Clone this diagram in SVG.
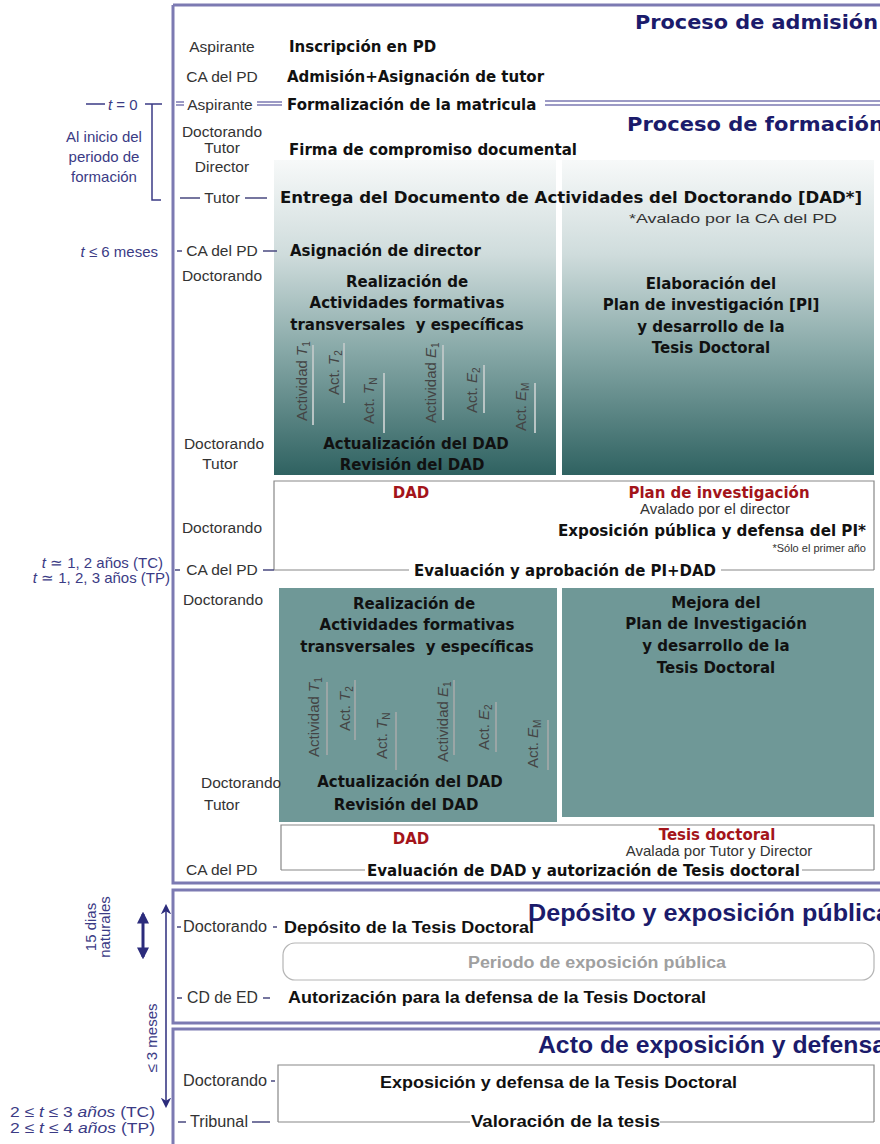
<svg xmlns="http://www.w3.org/2000/svg" width="880" height="1144" viewBox="0 0 880 1144">
<defs>
<linearGradient id="gTeal" x1="0" y1="0" x2="0" y2="1">
<stop offset="0" stop-color="#f7f9f9"/>
<stop offset="0.3" stop-color="#cfdcdc"/>
<stop offset="0.6" stop-color="#88a9a8"/>
<stop offset="1" stop-color="#2f6261"/>
</linearGradient>
<marker id="ah" viewBox="0 0 10 10" refX="8" refY="5" markerWidth="4" markerHeight="4" orient="auto-start-reverse"><path d="M0,0 L10,5 L0,10 z" fill="#2c2c7c"/></marker>
<marker id="ah2" viewBox="0 0 10 10" refX="8" refY="5" markerWidth="7" markerHeight="7" orient="auto-start-reverse"><path d="M0,0 L10,5 L0,10 L3,5 z" fill="#2c2c7c"/></marker>
</defs>
<style>
.role{font-family:"Liberation Sans",Arial,sans-serif;font-size:15.5px;fill:#333}
.act{font-family:"DejaVu Sans",Verdana,sans-serif;font-weight:bold;font-size:15px;fill:#111}
.title{font-family:"DejaVu Sans",Verdana,sans-serif;font-weight:bold;font-size:19px;fill:#1b1b6b}
.title2{font-family:"Liberation Sans",Arial,sans-serif;font-weight:bold;font-size:24px;fill:#1b1b6b}
.ann{font-family:"Liberation Sans",Arial,sans-serif;font-size:15px;fill:#3b3b85}
.red{font-family:"DejaVu Sans",Verdana,sans-serif;font-weight:bold;font-size:15px;fill:#a3141a}
.note{font-family:"Liberation Sans",Arial,sans-serif;fill:#333}
.vt{font-family:"Liberation Sans",Arial,sans-serif;font-size:15px;fill:#444}
.narrow{font-family:"Liberation Sans",Arial,sans-serif;font-size:16px;fill:#333}
.nb{font-family:"Liberation Sans",Arial,sans-serif;font-weight:bold;font-size:17px;fill:#111}
.nbg{font-family:"Liberation Sans",Arial,sans-serif;font-weight:bold;font-size:16px;fill:#a0a0a0}
.frame{fill:none;stroke:#7c7ab2;stroke-width:3}
.dbl{stroke:#7c7ab2;stroke-width:1.5}
.tick{stroke:#4a4a80;stroke-width:1.5}
.aline{stroke:#3b3b85;stroke-width:1.5;fill:none}
.bline{stroke:#888;stroke-width:1.2;fill:none}
.vl{stroke:#b8c4c4;stroke-width:2}
.vl2{stroke:#9aa6a6;stroke-width:2}
</style>

<g id="frames">
<path class="frame" d="M173,5 L882,5 M173,5 L173,883 L882,883"/>
<rect class="frame" x="173" y="890" width="712" height="133"/>
<rect class="frame" x="173" y="1029" width="712" height="130"/>
</g>

<g id="shapes">
<rect x="274" y="160" width="282" height="315" fill="url(#gTeal)"/>
<rect x="562" y="160" width="312" height="315" fill="url(#gTeal)"/>
<rect x="274" y="481" width="600" height="89" fill="#fff"/>
<rect x="279" y="588" width="278" height="234" fill="#6f9897"/>
<rect x="562" y="588" width="312" height="229" fill="#6f9897"/>
<rect x="281" y="825" width="593" height="45" fill="#fff"/>
<rect x="283" y="943" width="591" height="37" rx="12" fill="#fff" stroke="#b5b5b5" stroke-width="1.2"/>
<rect x="278" y="1065" width="596" height="57" fill="#fff"/>
</g>

<g id="connectors">
<path class="bline" d="M274,570 L274,481 L874,481 L874,570 M274,570 L409,570 M721,570 L874,570"/>
<path class="bline" d="M281,870 L281,825 L874,825 L874,870 M281,870 L365,870 M802,870 L874,870"/>
<path class="bline" d="M278,1122 L278,1065 L874,1065 L874,1122 M278,1122 L470,1122 M660,1122 L874,1122"/>
<path class="dbl" d="M176,102 L184,102 M176,105 L184,105 M257,102 L282,102 M257,105 L282,105 M545,101 L882,101 M545,105 L882,105"/>
<path class="aline" d="M86,104 L105,104 M145,104 L162,104 M152,104 L152,200 L161,200"/>
<path class="tick" d="M180,198 L200,198 M245,198 L267,198 M177,251 L182,251 M263,251 L277,251 M175,570 L180,570 M263,570 L274,570"/>
<path class="tick" stroke="#777" d="M177,927 L181,927 M273,927 L277,927 M177,998 L182,998 M263,998 L270,998 M271,1081 L275,1081 M178,1122 L186,1122 M252,1122 L270,1122"/>
<line x1="143" y1="914" x2="143" y2="957" stroke="#2c2c7c" stroke-width="3" marker-start="url(#ah)" marker-end="url(#ah)"/>
<line x1="166" y1="906" x2="166" y2="1106" stroke="#2c2c7c" stroke-width="1.5" marker-start="url(#ah2)" marker-end="url(#ah2)"/>
<path class="vl" d="M313,345 L313,425 M344,343 L344,403 M384,373 L384,433 M443,345 L443,420 M484,365 L484,413 M535,383 L535,433"/>
<path class="vl2" d="M327,682 L327,755 M355,680 L355,740 M396,712 L396,770 M454,680 L454,755 M496,702 L496,752 M548,720 L548,770"/>
</g>

<g id="titles">
<text class="title" x="635" y="29" textLength="243" lengthAdjust="spacingAndGlyphs">Proceso de admisión</text>
<text class="title" x="627" y="131" textLength="257" lengthAdjust="spacingAndGlyphs">Proceso de formación</text>
<text class="title2" x="528" y="921" textLength="362" lengthAdjust="spacingAndGlyphs">Depósito y exposición pública</text>
<text class="title2" x="538" y="1053" textLength="348" lengthAdjust="spacingAndGlyphs">Acto de exposición y defensa</text>
</g>

<g id="roles">
<text class="role" x="222" y="52" text-anchor="middle">Aspirante</text>
<text class="role" x="222" y="82" text-anchor="middle">CA del PD</text>
<text class="role" x="220" y="110" text-anchor="middle">Aspirante</text>
<text class="role" x="222" y="137" text-anchor="middle">Doctorando</text>
<text class="role" x="222" y="153" text-anchor="middle">Tutor</text>
<text class="role" x="222" y="172" text-anchor="middle">Director</text>
<text class="role" x="222" y="203" text-anchor="middle">Tutor</text>
<text class="role" x="222" y="256" text-anchor="middle">CA del PD</text>
<text class="role" x="222" y="281" text-anchor="middle">Doctorando</text>
<text class="role" x="224" y="449" text-anchor="middle">Doctorando</text>
<text class="role" x="220" y="469" text-anchor="middle">Tutor</text>
<text class="role" x="222" y="533" text-anchor="middle">Doctorando</text>
<text class="role" x="222" y="575" text-anchor="middle">CA del PD</text>
<text class="role" x="223" y="605" text-anchor="middle">Doctorando</text>
<text class="role" x="201" y="788">Doctorando</text>
<text class="role" x="204" y="810">Tutor</text>
<text class="role" x="186" y="875">CA del PD</text>
<text class="narrow" x="183" y="932" textLength="84" lengthAdjust="spacingAndGlyphs">Doctorando</text>
<text class="narrow" x="187" y="1003" textLength="71" lengthAdjust="spacingAndGlyphs">CD de ED</text>
<text class="narrow" x="183" y="1086" textLength="84" lengthAdjust="spacingAndGlyphs">Doctorando</text>
<text class="narrow" x="190" y="1127" textLength="58" lengthAdjust="spacingAndGlyphs">Tribunal</text>
</g>

<g id="annotations">
<text class="ann" x="108" y="110"><tspan font-style="italic">t</tspan> = 0</text>
<text class="ann" x="104" y="142" text-anchor="middle">Al inicio del</text>
<text class="ann" x="104" y="162" text-anchor="middle">periodo de</text>
<text class="ann" x="104" y="182" text-anchor="middle">formación</text>
<text class="ann" x="158" y="257" text-anchor="end"><tspan font-style="italic">t</tspan> ≤ 6 meses</text>
<text class="ann" x="163" y="568" text-anchor="end"><tspan font-style="italic">t</tspan> ≃ 1, 2 años (TC)</text>
<text class="ann" x="170" y="583" text-anchor="end"><tspan font-style="italic">t</tspan> ≃ 1, 2, 3 años (TP)</text>
<text class="ann" transform="translate(96,927) rotate(-90)" text-anchor="middle">15 dias</text>
<text class="ann" transform="translate(110,927) rotate(-90)" text-anchor="middle">naturales</text>
<text class="ann" transform="translate(157,1038) rotate(-90)" text-anchor="middle">≤ 3 meses</text>
<text class="ann" x="10" y="1117" textLength="145" lengthAdjust="spacingAndGlyphs">2 ≤ <tspan font-style="italic">t</tspan> ≤ 3 <tspan font-style="italic">años</tspan> (TC)</text>
<text class="ann" x="10" y="1133" textLength="145" lengthAdjust="spacingAndGlyphs">2 ≤ <tspan font-style="italic">t</tspan> ≤ 4 <tspan font-style="italic">años</tspan> (TP)</text>
</g>

<g id="admision">
<text class="act" x="289" y="52">Inscripción en PD</text>
<text class="act" x="287" y="82">Admisión+Asignación de tutor</text>
<text class="act" x="287" y="110">Formalización de la matricula</text>
</g>

<g id="formacion-inicio">
<text class="act" x="289" y="155">Firma de compromiso documental</text>
<text class="act" x="280" y="203" textLength="582" lengthAdjust="spacingAndGlyphs">Entrega del Documento de Actividades del Doctorando [DAD*]</text>
<text class="note" x="629" y="223" font-size="13.5" textLength="208" lengthAdjust="spacingAndGlyphs">*Avalado por la CA del PD</text>
<text class="act" x="290" y="256">Asignación de director</text>
</g>

<g id="actividades-1">
<text class="act" x="407" y="287" text-anchor="middle">Realización de</text>
<text class="act" x="407" y="308" text-anchor="middle">Actividades formativas</text>
<text class="act" x="407" y="330" text-anchor="middle" xml:space="preserve">transversales  y específicas</text>
<text class="vt" transform="translate(307,421) rotate(-90)">Actividad <tspan font-style="italic">T</tspan><tspan font-size="10" dy="3">1</tspan></text>
<text class="vt" transform="translate(339,395) rotate(-90)">Act. <tspan font-style="italic">T</tspan><tspan font-size="10" dy="3">2</tspan></text>
<text class="vt" transform="translate(374,424) rotate(-90)">Act. <tspan font-style="italic">T</tspan><tspan font-size="10" dy="3">N</tspan></text>
<text class="vt" transform="translate(436,423) rotate(-90)">Actividad <tspan font-style="italic">E</tspan><tspan font-size="10" dy="3">1</tspan></text>
<text class="vt" transform="translate(477,413) rotate(-90)">Act. <tspan font-style="italic">E</tspan><tspan font-size="10" dy="3">2</tspan></text>
<text class="vt" transform="translate(526,431) rotate(-90)">Act. <tspan font-style="italic">E</tspan><tspan font-size="10" dy="3">M</tspan></text>
<text class="act" x="416" y="449" text-anchor="middle">Actualización del DAD</text>
<text class="act" x="412" y="470" text-anchor="middle">Revisión del DAD</text>
</g>

<g id="plan-1">
<text class="act" x="711" y="289" text-anchor="middle">Elaboración del</text>
<text class="act" x="711" y="310" text-anchor="middle">Plan de investigación [PI]</text>
<text class="act" x="711" y="332" text-anchor="middle">y desarrollo de la</text>
<text class="act" x="711" y="353" text-anchor="middle">Tesis Doctoral</text>
</g>

<g id="evaluacion-1">
<text class="red" x="411" y="498" text-anchor="middle">DAD</text>
<text class="red" x="719" y="498" text-anchor="middle">Plan de investigación</text>
<text class="note" x="715" y="514" font-size="15" text-anchor="middle">Avalado por el director</text>
<text class="act" x="558" y="536" textLength="308" lengthAdjust="spacingAndGlyphs">Exposición pública y defensa del PI*</text>
<text class="note" x="866" y="552" font-size="11" text-anchor="end">*Sólo el primer año</text>
<text class="act" x="414" y="576" textLength="302" lengthAdjust="spacingAndGlyphs">Evaluación y aprobación de PI+DAD</text>
</g>

<g id="actividades-2">
<text class="act" x="414" y="609" text-anchor="middle">Realización de</text>
<text class="act" x="417" y="630" text-anchor="middle">Actividades formativas</text>
<text class="act" x="417" y="652" text-anchor="middle" xml:space="preserve">transversales  y específicas</text>
<text class="vt" transform="translate(319,757) rotate(-90)">Actividad <tspan font-style="italic">T</tspan><tspan font-size="10" dy="3">1</tspan></text>
<text class="vt" transform="translate(350,731) rotate(-90)">Act. <tspan font-style="italic">T</tspan><tspan font-size="10" dy="3">2</tspan></text>
<text class="vt" transform="translate(387,759) rotate(-90)">Act. <tspan font-style="italic">T</tspan><tspan font-size="10" dy="3">N</tspan></text>
<text class="vt" transform="translate(448,762) rotate(-90)">Actividad <tspan font-style="italic">E</tspan><tspan font-size="10" dy="3">1</tspan></text>
<text class="vt" transform="translate(489,750) rotate(-90)">Act. <tspan font-style="italic">E</tspan><tspan font-size="10" dy="3">2</tspan></text>
<text class="vt" transform="translate(538,768) rotate(-90)">Act. <tspan font-style="italic">E</tspan><tspan font-size="10" dy="3">M</tspan></text>
<text class="act" x="410" y="787" text-anchor="middle">Actualización del DAD</text>
<text class="act" x="406" y="810" text-anchor="middle">Revisión del DAD</text>
</g>

<g id="plan-2">
<text class="act" x="716" y="608" text-anchor="middle">Mejora del</text>
<text class="act" x="716" y="629" text-anchor="middle">Plan de Investigación</text>
<text class="act" x="716" y="651" text-anchor="middle">y desarrollo de la</text>
<text class="act" x="716" y="673" text-anchor="middle">Tesis Doctoral</text>
</g>

<g id="evaluacion-2">
<text class="red" x="411" y="844" text-anchor="middle">DAD</text>
<text class="red" x="717" y="840" text-anchor="middle">Tesis doctoral</text>
<text class="note" x="719" y="856" font-size="15" text-anchor="middle">Avalada por Tutor y Director</text>
<text class="act" x="367" y="876" textLength="433" lengthAdjust="spacingAndGlyphs">Evaluación de DAD y autorización de Tesis doctoral</text>
</g>

<g id="deposito">
<text class="nb" x="284" y="933" textLength="250" lengthAdjust="spacingAndGlyphs">Depósito de la Tesis Doctoral</text>
<text class="nbg" x="597" y="968" text-anchor="middle" textLength="258" lengthAdjust="spacingAndGlyphs">Periodo de exposición pública</text>
<text class="nb" x="288" y="1003" textLength="418" lengthAdjust="spacingAndGlyphs">Autorización para la defensa de la Tesis Doctoral</text>
</g>

<g id="defensa">
<text class="nb" x="380" y="1088" textLength="357" lengthAdjust="spacingAndGlyphs">Exposición y defensa de la Tesis Doctoral</text>
<text class="nb" x="471" y="1127" textLength="189" lengthAdjust="spacingAndGlyphs">Valoración de la tesis</text>
</g>
</svg>
